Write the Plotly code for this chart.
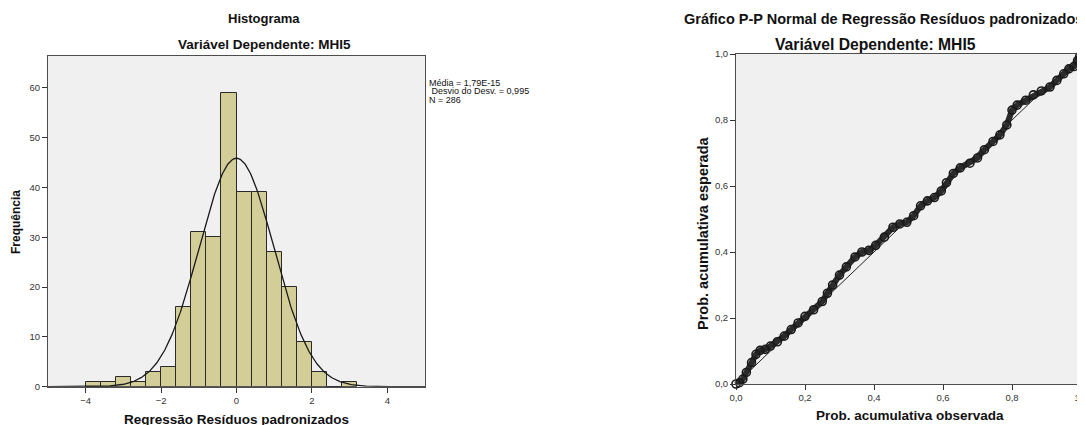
import numpy as np
import plotly.graph_objects as go

# ---------------- data ----------------
bin_left = [-4.0, -3.6, -3.2, -2.8, -2.4, -2.0, -1.6, -1.2, -0.8, -0.4,
            0.0, 0.4, 0.8, 1.2, 1.6, 2.0, 2.4, 2.8]
bin_counts = [1, 1, 2, 1, 3, 4, 16, 31, 30, 59, 39, 39, 27, 20, 9, 3, 0, 1]
bin_width = 0.4
stat_mean = 1.79e-15
stat_sd = 0.995
stat_n = 286

pp_observed = [0.000, 0.010, 0.020, 0.030, 0.045, 0.058, 0.070, 0.085, 0.100, 0.120,
               0.140, 0.160, 0.180, 0.200, 0.225, 0.250, 0.265, 0.280, 0.300, 0.320,
               0.345, 0.365, 0.385, 0.405, 0.430, 0.455, 0.475, 0.495, 0.515, 0.535,
               0.555, 0.575, 0.595, 0.610, 0.630, 0.650, 0.678, 0.700, 0.720, 0.745,
               0.765, 0.785, 0.800, 0.815, 0.840, 0.862, 0.885, 0.910, 0.930, 0.950,
               0.965, 0.980, 0.990, 0.996]
pp_expected = [0.000, 0.004, 0.015, 0.035, 0.065, 0.090, 0.102, 0.105, 0.115, 0.128,
               0.145, 0.165, 0.185, 0.205, 0.225, 0.250, 0.275, 0.300, 0.330, 0.355,
               0.385, 0.400, 0.405, 0.420, 0.445, 0.475, 0.485, 0.490, 0.510, 0.540,
               0.555, 0.565, 0.585, 0.610, 0.638, 0.655, 0.669, 0.685, 0.710, 0.735,
               0.755, 0.785, 0.830, 0.845, 0.860, 0.876, 0.888, 0.900, 0.920, 0.940,
               0.955, 0.962, 0.980, 0.992]

hist_xticks = [-4, -2, 0, 2, 4]
hist_yticks = [0, 10, 20, 30, 40, 50, 60]
pp_ticks = [0.0, 0.2, 0.4, 0.6, 0.8, 1.0]
pp_ticktext = ["0,0", "0,2", "0,4", "0,6", "0,8", "1,0"]
stats_lines = ["Média = 1,79E-15", " Desvio do Desv. = 0,995", "N = 286"]

# ---------------- figure ----------------
# the page body has an 8px default margin, so positions are given in
# window pixels and shifted back by that offset
W, H = 1085, 425
OFF = 8
def px(x):
    return (x - OFF) / W
def py(y):
    return 1 - (y - OFF) / H

FONT = "Liberation Sans, Arial, sans-serif"
fig = go.Figure()

bin_centers = [b + bin_width / 2 for b in bin_left]
fig.add_trace(go.Bar(
    x=bin_centers, y=bin_counts, width=bin_width,
    marker=dict(color="#d3ce97", line=dict(color="#2a2a2a", width=1)),
    xaxis="x", yaxis="y", showlegend=False, hoverinfo="skip"))

# fitted normal curve from the stated mean, sd and N
xc = np.linspace(-5, 5, 400)
yc = stat_n * bin_width / (stat_sd * np.sqrt(2 * np.pi)) * np.exp(-0.5 * ((xc - stat_mean) / stat_sd) ** 2)
fig.add_trace(go.Scatter(x=xc, y=yc, mode="lines", line=dict(color="#1a1a1a", width=1.3),
                         xaxis="x", yaxis="y", showlegend=False, hoverinfo="skip"))

# P-P plot
fig.add_trace(go.Scatter(x=[0, 1], y=[0, 1], mode="lines", line=dict(color="#222", width=1),
                         xaxis="x2", yaxis="y2", showlegend=False, hoverinfo="skip"))
fig.add_trace(go.Scatter(x=pp_observed, y=pp_expected, mode="lines+markers",
                         line=dict(color="#2b2b2b", width=6),
                         marker=dict(symbol="circle-open", size=8, color="#1a1a1a", line=dict(width=1.6)),
                         xaxis="x2", yaxis="y2", showlegend=False, hoverinfo="skip", cliponaxis=False))

axis_common = dict(showgrid=False, zeroline=False, showline=True, mirror=True,
                   linecolor="#4d4d4d", linewidth=1, ticks="outside", ticklen=5,
                   tickcolor="#333", tickfont=dict(family=FONT, size=9.5, color="#333"),
                   automargin=False, fixedrange=True)

fig.update_layout(
    width=W, height=H,
    margin=dict(l=0, r=0, t=0, b=0),
    paper_bgcolor="white",
    plot_bgcolor="#f0f0f0",
    bargap=0,
    xaxis=dict(domain=[px(48), px(425)], range=[-5, 5], tickvals=hist_xticks,
               anchor="y", **axis_common),
    yaxis=dict(domain=[py(386.7), py(56)], range=[0, 66.4], tickvals=hist_yticks,
               anchor="x", **axis_common),
    xaxis2=dict(domain=[px(736), px(1081)], range=[0, 1], tickvals=pp_ticks,
                ticktext=pp_ticktext, anchor="y2", **axis_common),
    yaxis2=dict(domain=[py(384), py(54)], range=[0, 1], tickvals=pp_ticks,
                ticktext=pp_ticktext, anchor="x2", **axis_common),
)

def ann(text, x, y, size, bold=True, angle=0, xanchor="center", yanchor="middle", align="center"):
    fig.add_annotation(text=f"<b>{text}</b>" if bold else text,
                       x=px(x), y=py(y), xref="paper", yref="paper",
                       showarrow=False, textangle=angle, xanchor=xanchor, yanchor=yanchor,
                       align=align, font=dict(family=FONT, size=size, color="#111"))

ann("Histograma", 264, 18, 13)
ann("Variável Dependente: MHI5", 264, 44, 13.5)
ann("Frequência", 16, 222, 12, angle=-90)
ann("Regressão Resíduos padronizados", 236, 419, 13.5)
for i, line in enumerate(stats_lines):
    ann(line.replace(" ", "&nbsp;", 1) if line.startswith(" ") else line,
        427, 82.5 + 8.5 * i, 9, bold=False, xanchor="left")

ann("Gráfico P-P Normal de Regressão Resíduos padronizados", 883, 19, 14.5)
ann("Variável Dependente: MHI5", 875, 44, 15.7)
ann("Prob. acumulativa esperada", 703, 233, 14.5, angle=-90)
ann("Prob. acumulativa observada", 910, 415, 13.5)

fig.write_html("out.html")
